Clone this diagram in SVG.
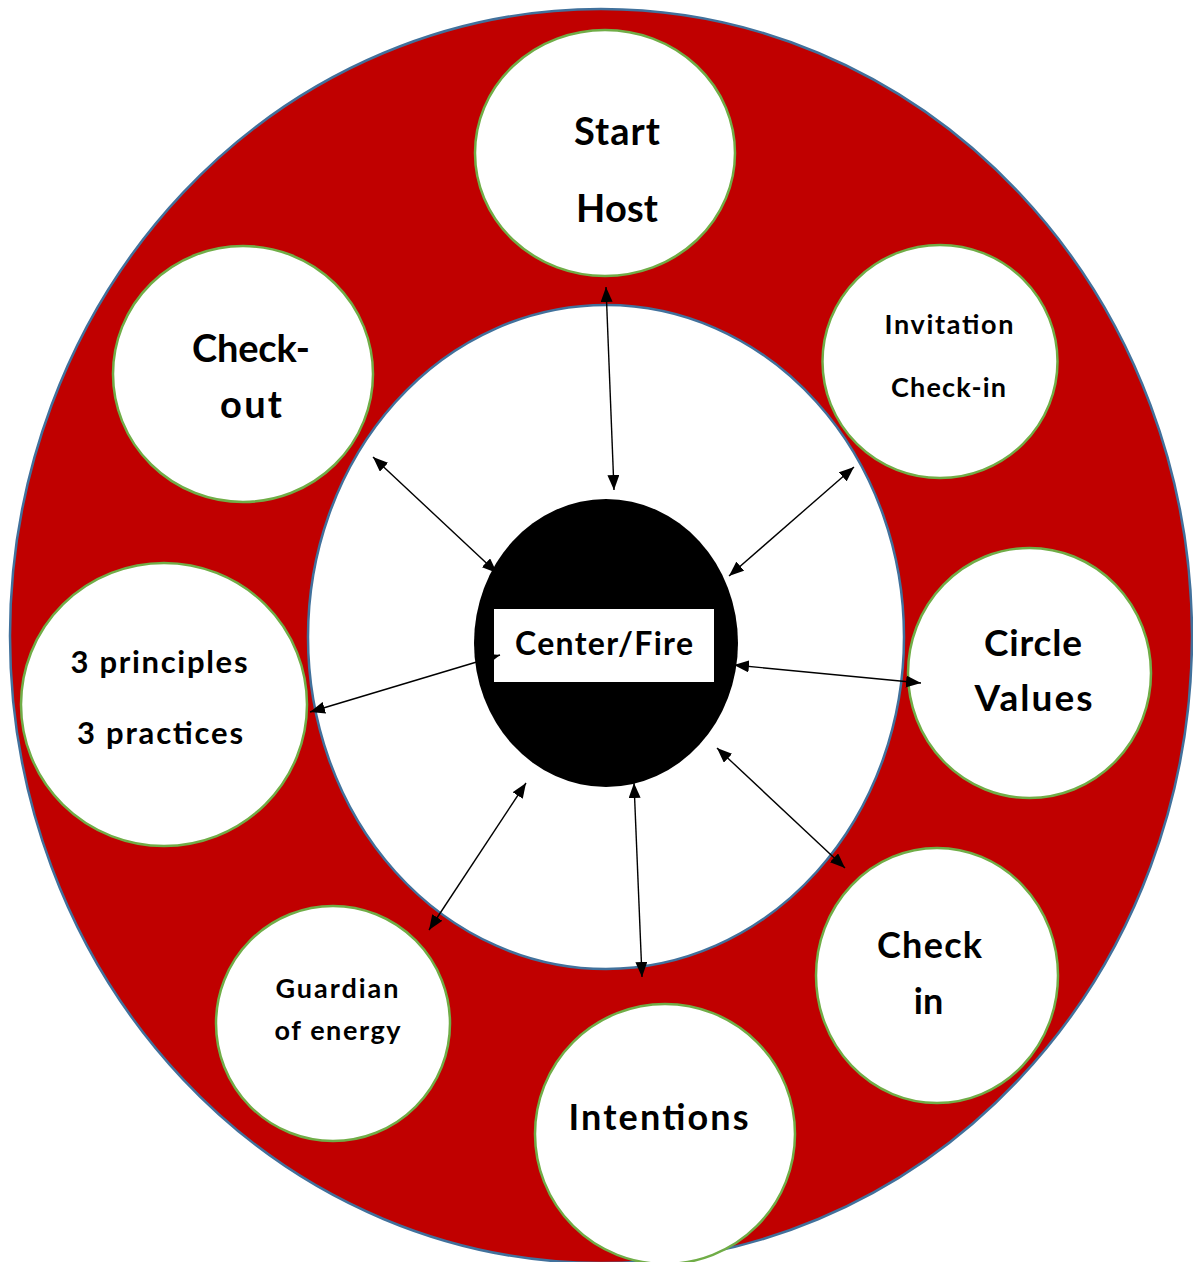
<svg xmlns="http://www.w3.org/2000/svg" width="1193" height="1262" viewBox="0 0 1193 1262">
<style>
.node{fill:#FFFFFF;stroke:#70AD47;stroke-width:2.5}
.t{font-family:Lato,"Open Sans","Liberation Sans",sans-serif;font-weight:700;fill:#000;text-anchor:middle}
.con{stroke:#000;stroke-width:1.4;fill:none;marker-start:url(#ah);marker-end:url(#ah)}
</style>
<defs>
<marker id="ah" markerUnits="userSpaceOnUse" markerWidth="16" markerHeight="12" refX="15" refY="6" orient="auto-start-reverse" viewBox="0 0 16 12">
<path d="M0,0 L15,6 L0,12 z" fill="#000"/>
</marker>
</defs>
<rect width="1193" height="1262" fill="#FFFFFF"/>
<g id="outer-ring">
<ellipse cx="601" cy="636" rx="591" ry="627" fill="#C00000" stroke="#41719C" stroke-width="2.5"/>
</g>
<g id="inner-circle">
<ellipse cx="606" cy="637" rx="298" ry="332" fill="#FFFFFF" stroke="#41719C" stroke-width="2.5"/>
</g>
<g id="start-host">
<ellipse class="node" cx="605" cy="153" rx="130" ry="123"/>
<text class="t" x="617" y="145" font-size="38" textLength="86" lengthAdjust="spacing">Start</text>
<text class="t" x="617" y="222" font-size="38" textLength="82" lengthAdjust="spacing">Host</text>
</g>
<g id="invitation">
<ellipse class="node" cx="940" cy="361.5" rx="117.5" ry="116.5"/>
<text class="t" x="949" y="334" font-size="27" textLength="129" lengthAdjust="spacing">Invitation</text>
<text class="t" x="948.5" y="397" font-size="27" textLength="115" lengthAdjust="spacing">Check-in</text>
</g>
<g id="circle-values">
<ellipse class="node" cx="1029.5" cy="673" rx="121.5" ry="125"/>
<text class="t" x="1033" y="656" font-size="37" textLength="98" lengthAdjust="spacing">Circle</text>
<text class="t" x="1033.5" y="711" font-size="37" textLength="118" lengthAdjust="spacing">Values</text>
</g>
<g id="check-in">
<ellipse class="node" cx="937" cy="975.5" rx="121" ry="127.5"/>
<text class="t" x="929.5" y="958" font-size="36" textLength="105" lengthAdjust="spacing">Check</text>
<text class="t" x="928.5" y="1014" font-size="36">in</text>
</g>
<g id="intentions">
<ellipse class="node" cx="665" cy="1134" rx="130" ry="130"/>
<text class="t" x="658.5" y="1130" font-size="36" textLength="180" lengthAdjust="spacing">Intentions</text>
</g>
<g id="guardian">
<ellipse class="node" cx="333" cy="1023.5" rx="117" ry="117.5"/>
<text class="t" x="337" y="998" font-size="27" textLength="123" lengthAdjust="spacing">Guardian</text>
<text class="t" x="337.5" y="1040" font-size="27" textLength="126" lengthAdjust="spacing">of energy</text>
</g>
<g id="principles">
<ellipse class="node" cx="164" cy="704.5" rx="143" ry="141.5"/>
<text class="t" x="159" y="673" font-size="31" textLength="177" lengthAdjust="spacing">3 principles</text>
<text class="t" x="160" y="744" font-size="31" textLength="166" lengthAdjust="spacing">3 practices</text>
</g>
<g id="check-out">
<ellipse class="node" cx="243" cy="374" rx="130" ry="128"/>
<text class="t" x="251" y="362" font-size="38" textLength="118" lengthAdjust="spacing">Check-</text>
<text class="t" x="251" y="418" font-size="38" textLength="62" lengthAdjust="spacing">out</text>
</g>
<g id="center-fire">
<ellipse cx="606" cy="643" rx="132" ry="144" fill="#000000"/>
<rect x="494" y="609" width="220" height="73" fill="#FFFFFF"/>
<text class="t" x="604" y="655" font-size="32" textLength="178" lengthAdjust="spacing">Center/Fire</text>
</g>
<g id="connectors">
<line class="con" x1="606" y1="287" x2="614" y2="490"/>
<line class="con" x1="854" y1="467" x2="729" y2="576"/>
<line class="con" x1="734" y1="665" x2="921" y2="683"/>
<line class="con" x1="717" y1="748" x2="845" y2="868"/>
<line class="con" x1="634" y1="783" x2="642" y2="977"/>
<line class="con" x1="526" y1="783" x2="429" y2="930"/>
<line class="con" x1="500" y1="655" x2="310" y2="712"/>
<line class="con" x1="373" y1="457" x2="497" y2="573"/>
</g>
</svg>
